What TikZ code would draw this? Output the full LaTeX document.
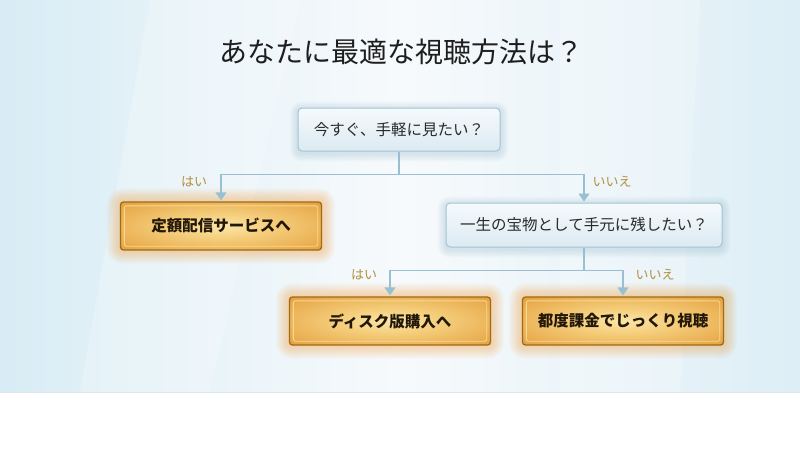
\documentclass[tikz,border=0pt]{standalone}
\usepackage{fontspec}
\newfontfamily\jp{Noto Sans CJK JP}
\usetikzlibrary{arrows.meta,backgrounds,calc}
\definecolor{bgedge}{HTML}{D8ECF5}
\definecolor{bgmid}{HTML}{F7FAFC}
\definecolor{bgright}{HTML}{DDEEF6}
\definecolor{titlec}{HTML}{1E1E1E}
\definecolor{qtop}{HTML}{F5FAFC}
\definecolor{qbot}{HTML}{DCEAF2}
\definecolor{qborder}{HTML}{A4C3D3}
\definecolor{qtext}{HTML}{2A2A2A}
\definecolor{gborder}{HTML}{A06A16}
\definecolor{ginner}{HTML}{F8D890}
\definecolor{gtext}{HTML}{231708}
\definecolor{glow}{HTML}{F4A94C}
\definecolor{linec}{HTML}{98C0D2}
\definecolor{labc}{HTML}{B58E3C}
\definecolor{gc0}{HTML}{FBE6A8}
\definecolor{gc1}{HTML}{F5CF7E}
\definecolor{gc2}{HTML}{E6A443}
\definecolor{gc3}{HTML}{D68A26}
\pgfdeclareradialshading{goldfill}{\pgfpoint{0bp}{0bp}}{%
  color(0bp)=(gc0);
  color(12bp)=(gc1);
  color(34bp)=(gc2);
  color(50bp)=(gc3);
  color(80bp)=(gc3)}
\tikzset{
  qbox/.style={draw=qborder, line width=1pt, rounded corners=4pt,
    top color=qtop, bottom color=qbot, text=qtext,
    font=\jp\fontsize{15.5}{18}\selectfont, inner sep=0pt,
    minimum height=43pt},
  gbox/.style={draw=gborder, line width=1.3pt, rounded corners=3pt,
    shading=goldfill, text=gtext,
    font=\jp\bfseries\fontsize{15.5}{18}\selectfont, inner sep=0pt,
    minimum width=201pt, minimum height=48pt},
  conn/.style={draw=linec, line width=1.3pt,
    -{Triangle[width=11pt,length=8pt,fill=linec]}, shorten >=1pt},
  lab/.style={text=labc, font=\jp\fontsize{13}{15}\selectfont, inner sep=0pt},
}
\newcommand{\goldglow}[1]{%
  \begin{pgfonlayer}{background}
  \foreach \r in {1,2,...,13}{
    \fill[glow, opacity=0.04, rounded corners=\r pt+3pt]
      ($(#1.north west)+(-\r,-\r)$) rectangle ($(#1.south east)+(\r,\r)$);}
  \end{pgfonlayer}
  \draw[ginner, line width=0.8pt, rounded corners=1.5pt]
    ($(#1.north west)+(4.5,4.5)$) rectangle ($(#1.south east)+(-4.5,-4.5)$);}
\newcommand{\blueglow}[1]{%
  \begin{pgfonlayer}{background}
  \foreach \r in {1,2,...,8}{
    \fill[qborder, opacity=0.05, rounded corners=\r pt+4pt]
      ($(#1.north west)+(-\r,-\r+2)$) rectangle ($(#1.south east)+(\r,\r+2)$);}
  \end{pgfonlayer}}
\begin{document}
\begin{tikzpicture}[x=1pt,y=-1pt]
\useasboundingbox (0,0) rectangle (800,450);
\begin{pgfonlayer}{background}
\shade[left color=bgedge, right color=bgright, middle color=bgmid] (0,0) rectangle (800,392);
\fill[white, opacity=0.22] (150,0) -- (300,0) -- (210,392) -- (80,392) -- cycle;
\fill[white, opacity=0.22] (560,0) -- (700,0) -- (680,392) -- (560,392) -- cycle;
\fill[white] (0,392) rectangle (800,450);
\draw[qborder!40, line width=0.8pt] (0,392) -- (800,392);
\end{pgfonlayer}

\node[text=titlec, font=\jp\fontsize{28}{32}\selectfont] (title) at (401,52) {あなたに最適な視聴方法は？};

\node[qbox, minimum width=202pt] (q1) at (399,129.5) {今すぐ、手軽に見たい？};
\node[qbox, minimum width=276pt, minimum height=44pt] (q2) at (584,225) {一生の宝物として手元に残したい？};
\node[gbox] (g1) at (221,226) {定額配信サービスへ};
\node[gbox] (g2) at (390,321) {ディスク版購入へ};
\node[gbox] (g3) at (623,321) {都度課金でじっくり視聴};

\blueglow{q1}
\blueglow{q2}
\goldglow{g1}
\goldglow{g2}
\goldglow{g3}

\coordinate (j1) at ($(q1.south)+(0,23)$);
\coordinate (j2) at ($(q2.south)+(0,23)$);
\draw[conn] (q1.south) -- (j1) -| (g1.north);
\draw[conn] (j1) -| (q2.north);
\draw[conn] (q2.south) -- (j2) -| (g2.north);
\draw[conn] (j2) -| (g3.north);

\node[lab] (l1) at (194,182) {はい};
\node[lab] (l2) at (612,182) {いいえ};
\node[lab] (l3) at (364,275) {はい};
\node[lab] (l4) at (655,275) {いいえ};
\end{tikzpicture}
\end{document}
